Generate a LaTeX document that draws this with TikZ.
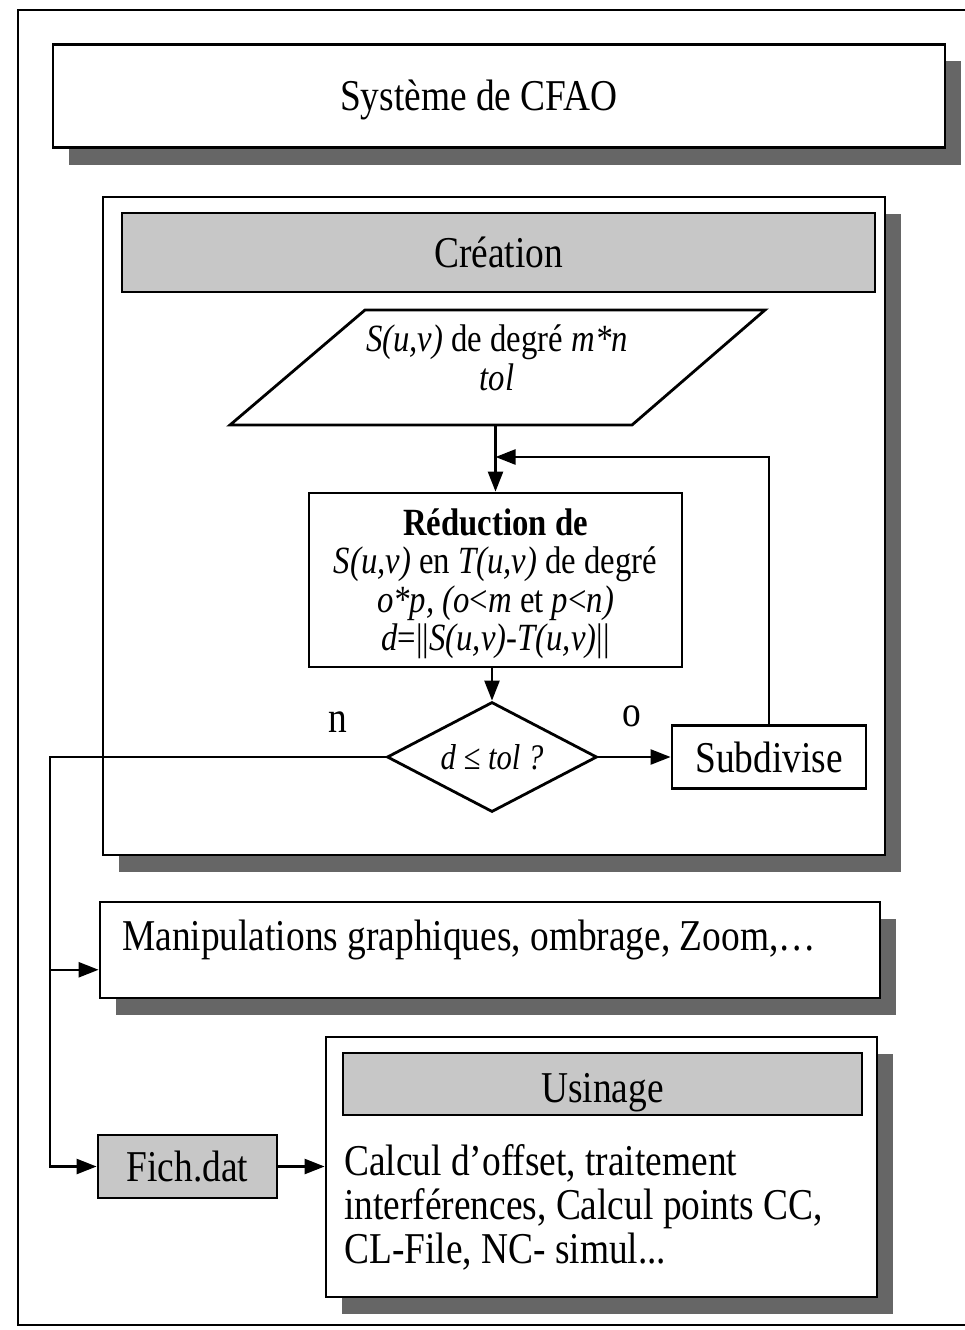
\documentclass[tikz,border=0pt]{standalone}
\usepackage{fontspec}
\setmainfont[FakeStretch=0.85]{Liberation Serif}
\usetikzlibrary{arrows.meta,shapes.geometric,shadows,calc}

\begin{document}
\begin{tikzpicture}[x=1pt,y=-1pt,
  box/.style={draw, line width=2.8pt, fill=white, inner sep=0pt},
  shadowed/.style={general shadow={fill=black!60, shadow xshift=16pt, shadow yshift=-17pt}},
  header/.style={draw, line width=2.8pt, fill=black!22, inner sep=0pt},
  big/.style={font=\fontsize{44}{44}\selectfont},
  flow/.style={font=\fontsize{38.5}{38.5}\selectfont},
  link/.style={line width=2.4pt, -{Triangle[length=20pt,width=15pt]}},
  wire/.style={line width=2.4pt},
]
\useasboundingbox (0,0) rectangle (965,1330);

% page frame, open on the right
\draw[line width=2.4pt] (965,10) -- (18,10) -- (18,1325) -- (965,1325);

% title
\node[box, shadowed, minimum width=892pt, minimum height=103pt] (title) at (499,96) {};
\node[big, inner sep=0pt] (titletext) at (479,100) {Système de CFAO};

% creation block
\node[box, shadowed, minimum width=782pt, minimum height=658pt] (creation) at (494,526) {};
\node[header, big, minimum width=753pt, minimum height=79pt] (creahead) at (498.5,252.5) {Création};

% input parallelogram
\coordinate (p1) at (365,310);
\coordinate (p2) at (765,310);
\coordinate (p3) at (632,425);
\coordinate (p4) at (230,425);
\draw[line width=2.8pt, fill=white] (p1) -- (p2) -- (p3) -- (p4) -- cycle;
\node[flow, align=center, inner sep=0pt] (input) at (497,358)
  {\textit{S(u,v)} de degré \textit{m*n}\\ \textit{tol}};

% reduction step
\node[box, minimum width=373pt, minimum height=174pt] (reduc) at (495.5,580) {};
\node[flow, align=center, inner sep=0pt] (reductext) at (495.5,584)
  {\textbf{Réduction de}\\
   \textit{S(u,v)} en \textit{T(u,v)} de degré\\
   \textit{o*p, (o}<\textit{m} et \textit{p}<\textit{n)}\\
   \textit{d}=||\textit{S(u,v)-T(u,v)}||};

% test
\node[draw, diamond, aspect=2, line width=2.8pt, fill=white, inner sep=0pt,
      minimum width=210pt, minimum height=110pt,
      font=\fontsize{36}{36}\selectfont] (test) at (492,757) {\itshape d ≤ tol ?};

% subdivision
\node[box, big, minimum width=194pt, minimum height=63pt] (subd) at (769,757) {Subdivise};

% graphics manipulation
\node[box, shadowed, minimum width=780pt, minimum height=96pt] (manip) at (490,950) {};
\node[big, anchor=west, inner sep=0pt] (maniptext) at (122,940)
  {Manipulations graphiques, ombrage, Zoom,…};

% data file
\node[header, big, minimum width=179pt, minimum height=63pt] (fich) at (187.5,1166.5) {Fich.dat};

% machining block
\node[box, shadowed, minimum width=551pt, minimum height=260pt] (usin) at (601.5,1167) {};
\node[header, big, text height=36pt, text depth=0pt, minimum width=519pt, minimum height=62pt]
  (usinhead) at (602.5,1084) {Usinage};
\node[big, anchor=west, align=left, inner sep=0pt] (usintext) at (344,1207)
  {Calcul d’offset, traitement\\
   interférences, Calcul points CC,\\
   CL-File, NC- simul...};

% connectors
\coordinate (pin) at (reduc.north |- p4);
\draw[link] (pin) -- (reduc.north);
\coordinate (joint) at (495.5,457);
\draw[link] (subd.north) |- (joint);
\draw[link] (reduc.south -| test.north) -- (test.north);
\draw[link] (test.east) -- (subd.west);
\coordinate (bus) at (50,757);
\draw[link] (test.west) -| (bus |- fich.west) -- (fich.west);
\coordinate (manipin) at ($(manip.south west)!0.3!(manip.north west)$);
\draw[link] (bus |- manipin) -- (manipin);
\draw[link] (fich.east) -- (fich.east -| usin.west);

% branch labels
\node[big, inner sep=0pt] (labn) at (338,722) {n};
\node[big, inner sep=0pt] (labo) at (632,716) {o};
\end{tikzpicture}
\end{document}
